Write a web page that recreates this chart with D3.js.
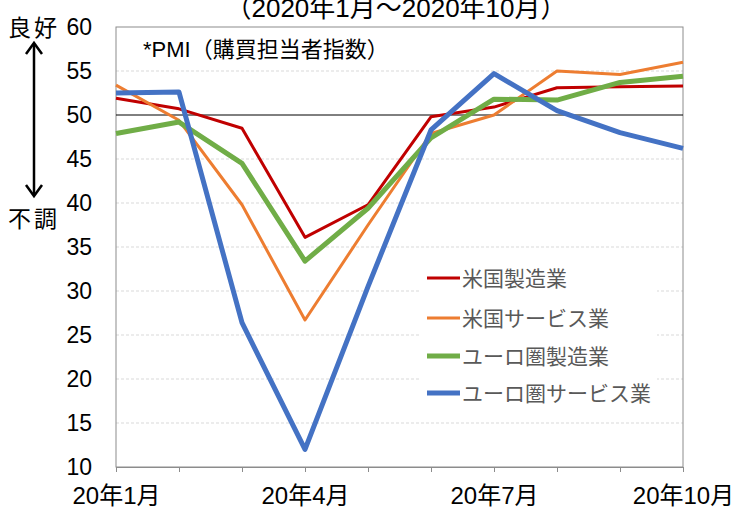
<!DOCTYPE html>
<html>
<head>
<meta charset="utf-8">
<script src="https://cdn.jsdelivr.net/npm/d3@7"></script>
<style>
  body { margin: 0; background: #fff; }
  text { font-family: "Liberation Sans", Arial, "Noto Sans CJK JP", sans-serif; }
</style>
</head>
<body>
<script>
var Width = 734;
var Height = 511;
var Left = 116, Right = 683, Top = 27, Bottom = 467;

// months 2020/1 .. 2020/10
var months = [1, 2, 3, 4, 5, 6, 7, 8, 9, 10];
var monthLabels = {1: "20年1月", 4: "20年4月", 7: "20年7月", 10: "20年10月"};
var yTicks = [10, 15, 20, 25, 30, 35, 40, 45, 50, 55, 60];

var usMfg = [51.9, 50.7, 48.5, 36.1, 39.8, 49.8, 50.9, 53.1, 53.2, 53.3];
var usSvc = [53.4, 49.4, 39.8, 26.7, 37.5, 47.9, 50.0, 55.0, 54.6, 56.0];
var euMfg = [47.9, 49.2, 44.5, 33.4, 39.4, 47.4, 51.8, 51.7, 53.7, 54.4];
var euSvc = [52.5, 52.6, 26.4, 12.0, 30.5, 48.3, 54.7, 50.5, 48.0, 46.2];

var seriesNames = ["米国製造業", "米国サービス業", "ユーロ圏製造業", "ユーロ圏サービス業"];
var seriesColors = ["#C00000", "#ED7D31", "#70AD47", "#4472C4"];
var seriesWidths = [3, 3, 5, 5];

function main () {
  var svg = d3.select("body").append("svg")
    .attr("width", Width)
    .attr("height", Height);

  var xScale = d3.scalePoint().domain(months).range([Left, Right]);
  var yScale = d3.scaleLinear().domain([10, 60]).range([Bottom, Top]);

  // gridlines
  svg.selectAll("line.grid")
    .data(yTicks.filter(function(d) { return d != 10 && d != 60 && d != 50; }))
    .enter().append("line")
    .attr("class", "grid")
    .attr("x1", Left).attr("x2", Right)
    .attr("y1", function(d) { return yScale(d); })
    .attr("y2", function(d) { return yScale(d); })
    .attr("stroke", "#d9d9d9")
    .attr("stroke-width", 1)
    .attr("stroke-dasharray", "3,2");

  // frame
  svg.append("rect")
    .attr("x", Left).attr("y", Top)
    .attr("width", Right - Left).attr("height", Bottom - Top)
    .attr("fill", "none")
    .attr("stroke", "#8c8c8c")
    .attr("stroke-width", 1);

  // 50 line
  svg.append("line")
    .attr("x1", Left).attr("x2", Right)
    .attr("y1", yScale(50)).attr("y2", yScale(50))
    .attr("stroke", "#000").attr("stroke-width", 1);

  // x axis
  var xAxis = d3.axisBottom(xScale)
    .tickSize(5)
    .tickFormat(function(d) { return monthLabels[d] || ""; });
  var gx = svg.append("g")
    .attr("transform", "translate(0," + Bottom + ")")
    .call(xAxis);
  gx.select(".domain").attr("stroke", "#8c8c8c");
  gx.selectAll(".tick line").attr("stroke", "#8c8c8c");
  gx.selectAll(".tick text")
    .attr("y", 20)
    .attr("font-size", 24)
    .attr("fill", "#000")
    .style("font-family", "'Liberation Sans', 'Noto Sans CJK JP', sans-serif");

  // y axis
  var yAxis = d3.axisLeft(yScale).tickValues(yTicks).tickSize(0).tickPadding(0);
  var gy = svg.append("g")
    .attr("transform", "translate(" + 92 + ",0)")
    .call(yAxis);
  gy.select(".domain").remove();
  gy.selectAll(".tick text")
    .attr("font-size", 23)
    .attr("fill", "#000")
    .style("font-family", "'Liberation Sans', sans-serif");

  // lines
  var data = [usMfg, usSvc, euMfg, euSvc];
  var line = d3.line()
    .x(function(d, i) { return xScale(months[i]); })
    .y(function(d) { return yScale(d); });
  svg.selectAll("path.series")
    .data(data)
    .enter().append("path")
    .attr("class", "series")
    .attr("d", line)
    .attr("fill", "none")
    .attr("stroke", function(d, i) { return seriesColors[i]; })
    .attr("stroke-width", function(d, i) { return seriesWidths[i]; })
    .attr("stroke-linejoin", "round");

  // legend
  var lg = svg.append("g");
  lg.append("rect")
    .attr("x", 419).attr("y", 262)
    .attr("width", 238).attr("height", 150)
    .attr("fill", "#fff");
  var rowY = [278, 318, 356, 393];
  seriesNames.forEach(function(name, i) {
    lg.append("line")
      .attr("x1", 427).attr("x2", 460)
      .attr("y1", rowY[i]).attr("y2", rowY[i])
      .attr("stroke", seriesColors[i])
      .attr("stroke-width", seriesWidths[i]);
    lg.append("text")
      .attr("x", 462).attr("y", rowY[i] + 8)
      .attr("font-size", 21)
      .attr("fill", "#595959")
      .style("font-family", "'Noto Sans CJK JP', sans-serif")
      .text(name);
  });

  // annotations
  svg.append("text")
    .attr("x", 396).attr("y", 17)
    .attr("text-anchor", "middle")
    .attr("font-size", 26)
    .attr("fill", "#000")
    .text("（2020年1月～2020年10月）");

  svg.append("text")
    .attr("x", 143).attr("y", 57)
    .attr("font-size", 22)
    .attr("fill", "#000")
    .text("*PMI（購買担当者指数）");

  svg.append("text")
    .attr("x", 8).attr("y", 36)
    .attr("font-size", 23)
    .attr("letter-spacing", 3)
    .attr("fill", "#000")
    .style("font-family", "'Noto Sans CJK JP', sans-serif")
    .text("良好");
  svg.append("text")
    .attr("x", 8).attr("y", 227)
    .attr("font-size", 23)
    .attr("letter-spacing", 3)
    .attr("fill", "#000")
    .style("font-family", "'Noto Sans CJK JP', sans-serif")
    .text("不調");

  // double arrow
  var ax = 34;
  svg.append("line")
    .attr("x1", ax).attr("x2", ax)
    .attr("y1", 44).attr("y2", 194)
    .attr("stroke", "#000").attr("stroke-width", 2.5);
  svg.append("path")
    .attr("d", "M" + (ax - 8) + ",54 L" + ax + ",43 L" + (ax + 8) + ",54")
    .attr("fill", "none").attr("stroke", "#000").attr("stroke-width", 2.5);
  svg.append("path")
    .attr("d", "M" + (ax - 8) + ",185 L" + ax + ",196 L" + (ax + 8) + ",185")
    .attr("fill", "none").attr("stroke", "#000").attr("stroke-width", 2.5);
}

main();
</script>
</body>
</html>
